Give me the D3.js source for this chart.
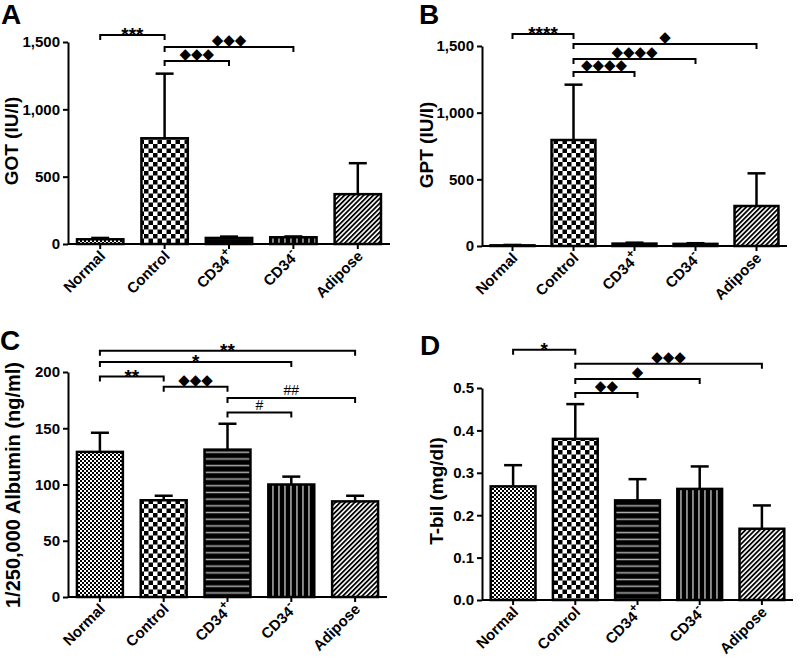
<!DOCTYPE html>
<html><head><meta charset="utf-8">
<script src="https://cdn.jsdelivr.net/npm/d3@7"></script>
<style>body{margin:0;background:#fff}svg{display:block}</style>
</head><body>
<svg id="chart" width="802" height="660"></svg>
<script>
// ---- data ----
const categories = ["Normal", "Control", "CD34+", "CD34-", "Adipose"];
const gotMean = [35, 785, 45, 50, 370];
const gotErr  = [10, 480, 10, 6, 230];
const gptMean = [5, 795, 18, 16, 300];
const gptErr  = [3, 415, 7, 5, 245];
const albMean = [129, 86, 131, 100, 85];
const albErr  = [17, 4, 23, 7, 5];
const tbilMean = [0.268, 0.380, 0.235, 0.262, 0.168];
const tbilErr  = [0.050, 0.082, 0.050, 0.053, 0.055];
const gotTicks = [0, 500, 1000, 1500];
const gptTicks = [0, 500, 1000, 1500];
const albTicks = [0, 50, 100, 150, 200];
const tbilTicks = [0, 0.1, 0.2, 0.3, 0.4, 0.5];
// significance brackets: [fromIndex, toIndex, label, level]
const gotSig = [[0,1,"***",1552],[1,3,"◆◆◆",1463],[1,2,"◆◆◆",1359]];
const gptSig = [[0,1,"****",1590],[1,4,"◆",1515],[1,3,"◆◆◆◆",1402],[1,2,"◆◆◆◆",1305]];
const albSig = [[0,4,"**",219],[0,3,"*",209],[0,1,"**",196],[1,2,"◆◆◆",187],[2,4,"##",177],[2,3,"#",164]];
const tbilSig = [[0,1,"*",0.590],[1,4,"◆◆◆",0.557],[1,3,"◆",0.521],[1,2,"◆◆",0.488]];

const svg = d3.select("#chart");
const FONT = "'Liberation Sans', Arial, sans-serif";
const defs = svg.append("defs");

// patterns
function pat(id, w, h, extra) {
  const p = defs.append("pattern").attr("id", id).attr("patternUnits", "userSpaceOnUse")
    .attr("width", w).attr("height", h);
  if (extra) p.attr("patternTransform", extra);
  return p;
}
let p = pat("pNormal", 4, 4);
p.append("rect").attr("width", 4).attr("height", 4).attr("fill", "#fff");
p.append("rect").attr("width", 2).attr("height", 2).attr("fill", "#000");
p.append("rect").attr("x", 2).attr("y", 2).attr("width", 2).attr("height", 2).attr("fill", "#000");
p = pat("pControl", 9, 9);
p.append("rect").attr("width", 9).attr("height", 9).attr("fill", "#fff");
p.append("rect").attr("width", 4.5).attr("height", 4.5).attr("fill", "#000");
p.append("rect").attr("x", 4.5).attr("y", 4.5).attr("width", 4.5).attr("height", 4.5).attr("fill", "#000");
p = pat("pPlus", 10, 6.7);
p.append("rect").attr("width", 10).attr("height", 6.7).attr("fill", "#000");
p.append("rect").attr("y", 2.6).attr("width", 10).attr("height", 1.5).attr("fill", "#b0b0b0");
p = pat("pMinus", 6, 10);
p.append("rect").attr("width", 6).attr("height", 10).attr("fill", "#000");
p.append("rect").attr("x", 2.2).attr("width", 1.5).attr("height", 10).attr("fill", "#b0b0b0");
p = pat("pAdipose", 3.4, 10, "rotate(45)");
p.append("rect").attr("width", 3.4).attr("height", 10).attr("fill", "#fff");
p.append("rect").attr("width", 1.8).attr("height", 10).attr("fill", "#000");
const fills = ["url(#pNormal)", "url(#pControl)", "url(#pPlus)", "url(#pMinus)", "url(#pAdipose)"];

function panel(cfg) {
  const g = svg.append("g");
  const x = d3.scaleBand().domain(categories).range([cfg.x0, cfg.x1]).paddingInner(0.28).paddingOuter(0.14);
  const y = d3.scaleLinear().domain([0, cfg.ymax]).range([cfg.y0, cfg.y1]);
  const cx = i => x(categories[i]) + x.bandwidth() / 2;

  // bars
  g.selectAll("rect.bar").data(cfg.mean).join("rect")
    .attr("x", (d, i) => x(categories[i])).attr("width", x.bandwidth())
    .attr("y", d => y(d)).attr("height", d => y(0) - y(d))
    .attr("fill", (d, i) => fills[i]).attr("stroke", "#000").attr("stroke-width", 2.5);
  // error bars
  const eb = g.selectAll("g.err").data(cfg.mean).join("g");
  eb.append("line").attr("x1", (d, i) => cx(i)).attr("x2", (d, i) => cx(i))
    .attr("y1", d => y(d)).attr("y2", (d, i) => y(d + cfg.err[i]))
    .attr("stroke", "#000").attr("stroke-width", 2.5);
  eb.append("line").attr("x1", (d, i) => cx(i) - 9).attr("x2", (d, i) => cx(i) + 9)
    .attr("y1", (d, i) => y(d + cfg.err[i])).attr("y2", (d, i) => y(d + cfg.err[i]))
    .attr("stroke", "#000").attr("stroke-width", 2.5);

  // y axis
  const ya = g.append("g").attr("transform", `translate(${cfg.x0},0)`)
    .call(d3.axisLeft(y).tickValues(cfg.ticks).tickFormat(cfg.fmt).tickSize(5).tickPadding(3).tickSizeOuter(0));
  ya.select(".domain").attr("stroke-width", 2);
  ya.selectAll(".tick line").attr("stroke-width", 2);
  ya.selectAll("text").attr("font-family", FONT).attr("font-weight", "bold").attr("font-size", 15).attr("fill", "#000");
  // x axis
  const xa = g.append("g").attr("transform", `translate(0,${cfg.y0})`)
    .call(d3.axisBottom(x).tickSize(5).tickSizeOuter(0));
  xa.select(".domain").attr("d", `M${cfg.x0},0H${cfg.x1}`).attr("stroke-width", 2);
  xa.selectAll(".tick line").attr("stroke-width", 2);
  xa.selectAll(".tick text").each(function (d) {
    const t = d3.select(this);
    t.text(null).attr("font-family", FONT).attr("font-weight", "bold").attr("font-size", 15).attr("fill", "#000")
      .attr("text-anchor", "end").attr("y", 0).attr("dy", 0)
      .attr("transform", "translate(6,13) rotate(-45)");
    const m = d.match(/^(CD34)([+-])$/);
    if (m) {
      t.append("tspan").text(m[1]);
      t.append("tspan").text(m[2] === "+" ? "+" : "-").attr("baseline-shift", "super").attr("font-size", 12);
    } else t.text(d);
  });

  // y label
  g.append("text").attr("transform", `translate(${cfg.lx},${cfg.ly}) rotate(-90)`)
    .attr("text-anchor", "middle").attr("font-family", FONT).attr("font-weight", "bold").attr("font-size", cfg.lfs)
    .text(cfg.label);
  // panel letter
  g.append("text").attr("x", cfg.px).attr("y", cfg.py).attr("font-family", FONT)
    .attr("font-weight", "bold").attr("font-size", 28).text(cfg.letter);

  // significance brackets
  cfg.sig.forEach(([a, b, lab, lv]) => {
    const yy = y(lv), xa1 = cx(a), xb = cx(b);
    g.append("path").attr("d", `M${xa1},${yy + 5}V${yy}H${xb}V${yy + 5}`)
      .attr("fill", "none").attr("stroke", "#000").attr("stroke-width", 2);
    const isDia = lab.includes("◆"), isHash = lab.includes("#");
    g.append("text").attr("x", (xa1 + xb) / 2).attr("y", isDia ? yy - 2 : (isHash ? yy - 3 : yy + 6))
      .attr("text-anchor", "middle")
      .attr("font-family", isDia ? "'DejaVu Sans', sans-serif" : FONT)
      .attr("font-weight", isHash ? "normal" : "bold")
      .attr("font-size", isDia ? 15 : (isHash ? 14 : 19))
      .text(lab);
  });
}

panel({x0: 68, x1: 390, y0: 244, y1: 42, ymax: 1500, mean: gotMean, err: gotErr, ticks: gotTicks,
  fmt: d3.format(","), label: "GOT (IU/l)", lfs: 19, lx: 18, ly: 141, letter: "A", px: 1, py: 24, sig: gotSig});
panel({x0: 482, x1: 787, y0: 246, y1: 46, ymax: 1500, mean: gptMean, err: gptErr, ticks: gptTicks,
  fmt: d3.format(","), label: "GPT (IU/l)", lfs: 19, lx: 433, ly: 145, letter: "B", px: 419, py: 24, sig: gptSig});
panel({x0: 68, x1: 387, y0: 597, y1: 372, ymax: 200, mean: albMean, err: albErr, ticks: albTicks,
  fmt: d3.format("d"), label: "1/250,000 Albumin (ng/ml)", lfs: 20, lx: 20, ly: 485, letter: "C", px: 0, py: 350, sig: albSig});
panel({x0: 482, x1: 793, y0: 600, y1: 388, ymax: 0.5, mean: tbilMean, err: tbilErr, ticks: tbilTicks,
  fmt: d3.format(".1f"), label: "T-bil (mg/dl)", lfs: 19, lx: 443, ly: 491, letter: "D", px: 420, py: 355, sig: tbilSig});
</script>
</body></html>
